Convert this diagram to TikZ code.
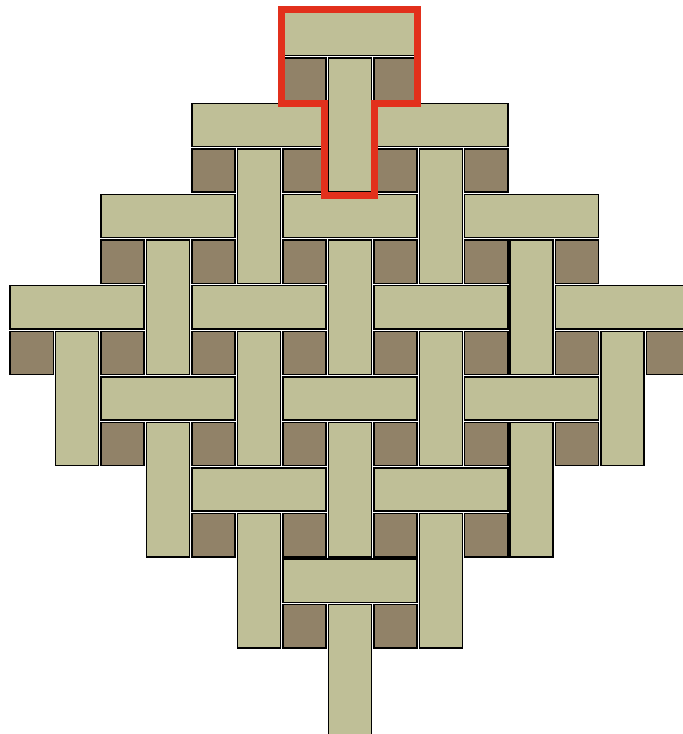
\documentclass[tikz,border=0pt]{standalone}
\definecolor{tilecol}{HTML}{BFBF97}
\definecolor{sqcol}{HTML}{918268}
\definecolor{redcol}{HTML}{E2301C}
\begin{document}
\begin{tikzpicture}[x=1pt,y=-1pt,
  tilebox/.style={fill=tilecol,draw=black,line width=1.5pt},
  sqbox/.style={fill=sqcol,draw=black,line width=1.5pt},
  redbox/.style={draw=redcol,line width=7pt,line join=miter}]
\useasboundingbox (0,0) rectangle (683,734);
\clip (0,0) rectangle (683,734);
\def\tux{45.45}\def\tuy{45.58}\def\txo{9}\def\tyo{11}\def\tg{1.2}
% horizontal tiles (3 x 1)
\foreach \c/\r in {6/0, 4/2,8/2, 2/4,6/4,10/4, 0/6,4/6,8/6,12/6, 2/8,6/8,10/8, 4/10,8/10, 6/12}
  \draw[tilebox] ({\txo+\c*\tux+\tg},{\tyo+\r*\tuy+\tg}) rectangle ({\txo+(\c+3)*\tux-\tg},{\tyo+(\r+1)*\tuy-\tg});
% vertical tiles (1 x 3)
\foreach \c/\r in {7/1, 5/3,9/3, 3/5,7/5,11/5, 1/7,5/7,9/7,13/7, 3/9,7/9,11/9, 5/11,9/11, 7/13}
  \draw[tilebox] ({\txo+\c*\tux+\tg},{\tyo+\r*\tuy+\tg}) rectangle ({\txo+(\c+1)*\tux-\tg},{\tyo+(\r+3)*\tuy-\tg});
% small dark squares
\foreach \c/\r in {6/1,8/1, 4/3,6/3,8/3,10/3, 2/5,4/5,6/5,8/5,10/5,12/5,
  0/7,2/7,4/7,6/7,8/7,10/7,12/7,14/7, 2/9,4/9,6/9,8/9,10/9,12/9, 4/11,6/11,8/11,10/11, 6/13,8/13}
  \draw[sqbox] ({\txo+\c*\tux+\tg},{\tyo+\r*\tuy+\tg}) rectangle ({\txo+(\c+1)*\tux-\tg},{\tyo+(\r+1)*\tuy-\tg});
% red T outline
\draw[redbox] (281.3,9.5) -- (417.3,9.5) -- (417.3,103) -- (374,103) -- (374,195) -- (324,195) -- (324,103) -- (281.3,103) -- cycle;
\end{tikzpicture}
\end{document}
